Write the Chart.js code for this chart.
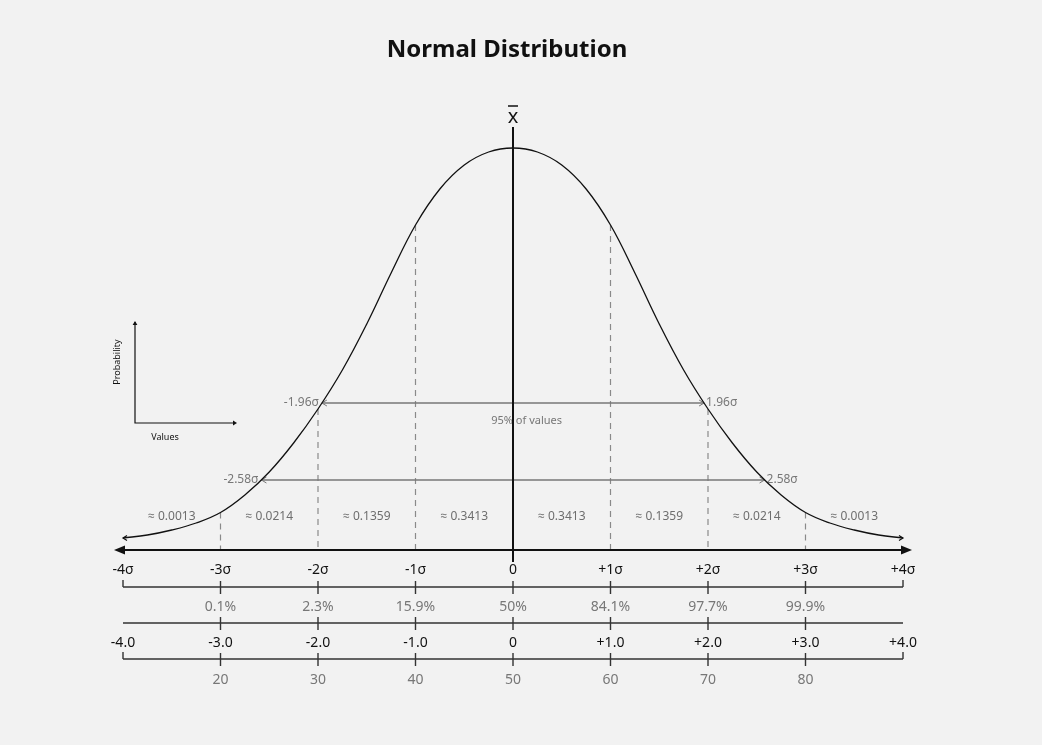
<!DOCTYPE html>
<html>
<head>
<meta charset="utf-8">
<script src="https://cdn.jsdelivr.net/npm/chart.js@4.4.0/dist/chart.umd.min.js"></script>
<style>
html, body { margin: 0; padding: 0; background: #f2f2f2; }
#wrap { width: 1042px; height: 745px; position: relative; }
</style>
</head>
<body>
<div id="wrap"><canvas id="normalChart"></canvas></div>
<script>
// curve (x in sigma units)
const sigmaPoints = [-4, -3.75, -3.5, -3.25, -3, -2.75, -2.5, -2.25, -2, -1.75, -1.5, -1.25, -1, -0.75, -0.5, -0.25,
    0, 0.25, 0.5, 0.75, 1, 1.25, 1.5, 1.75, 2, 2.25, 2.5, 2.75, 3, 3.25, 3.5, 3.75, 4];
const curveValues = [0.012, 0.015, 0.020, 0.027, 0.0375, 0.055, 0.078, 0.107, 0.141, 0.180, 0.226, 0.277, 0.325, 0.361, 0.385, 0.398,
    0.402, 0.398, 0.385, 0.361, 0.325, 0.277, 0.226, 0.180, 0.141, 0.107, 0.078, 0.055, 0.0375, 0.027, 0.020, 0.015, 0.012];

// scales under the axis
const tickPositions = [-4, -3, -2, -1, 0, 1, 2, 3, 4];
const sigmaLabels = ['-4σ', '-3σ', '-2σ', '-1σ', '0', '+1σ', '+2σ', '+3σ', '+4σ'];
const cumulativeLabels = ['', '0.1%', '2.3%', '15.9%', '50%', '84.1%', '97.7%', '99.9%', ''];
const zLabels = ['-4.0', '-3.0', '-2.0', '-1.0', '0', '+1.0', '+2.0', '+3.0', '+4.0'];
const tScoreLabels = ['', '20', '30', '40', '50', '60', '70', '80', ''];

// areas between the sigma lines
const areaCenters = [-3.5, -2.5, -1.5, -0.5, 0.5, 1.5, 2.5, 3.5];
const areaLabels = ['≈ 0.0013', '≈ 0.0214', '≈ 0.1359', '≈ 0.3413', '≈ 0.3413', '≈ 0.1359', '≈ 0.0214', '≈ 0.0013'];
const dashedAt = [-3, -2, -1, 1, 2, 3];

// confidence intervals
const intervalZ = [1.96, 2.58];
const intervalLevel = [0.147, 0.070];
const intervalLabels = ['1.96σ', '2.58σ'];

const FONT = '"Noto Sans", "Open Sans", sans-serif';

function curveAt(s) {
    const i = sigmaPoints.indexOf(s);
    return curveValues[i];
}

function arrowHead(ctx, x, y, dir, size, filled, ratio) {
    const w = size * (ratio || 0.6);
    ctx.beginPath();
    if (dir === 'up') {
        ctx.moveTo(x - w, y + size);
        ctx.lineTo(x, y);
        ctx.lineTo(x + w, y + size);
    } else {
        ctx.moveTo(x - dir * size, y - w);
        ctx.lineTo(x, y);
        ctx.lineTo(x - dir * size, y + w);
    }
    if (filled) { ctx.closePath(); ctx.fill(); } else { ctx.stroke(); }
}

const decorPlugin = {
    id: 'decor',
    beforeDraw(chart) {
        const ctx = chart.ctx;
        ctx.save();
        ctx.fillStyle = '#f2f2f2';
        ctx.fillRect(0, 0, chart.width, chart.height);
        ctx.restore();
    },
    beforeDatasetsDraw(chart) {
        const ctx = chart.ctx;
        const xs = chart.scales.x, ys = chart.scales.y;
        const base = ys.getPixelForValue(0);
        ctx.save();
        // dashed sigma lines
        ctx.strokeStyle = '#8a8a8a';
        ctx.lineWidth = 1.2;
        ctx.setLineDash([6, 5]);
        dashedAt.forEach(s => {
            const px = xs.getPixelForValue(s);
            ctx.beginPath();
            ctx.moveTo(px, ys.getPixelForValue(curveAt(s)));
            ctx.lineTo(px, base);
            ctx.stroke();
        });
        ctx.setLineDash([]);

        // interval arrows
        ctx.strokeStyle = '#777';
        ctx.fillStyle = '#777';
        ctx.lineWidth = 1.3;
        ctx.font = '12px ' + FONT;
        ctx.textBaseline = 'middle';
        intervalZ.forEach((z, i) => {
            const y = ys.getPixelForValue(intervalLevel[i]);
            const x1 = xs.getPixelForValue(-z), x2 = xs.getPixelForValue(z);
            ctx.beginPath();
            ctx.moveTo(x1, y);
            ctx.lineTo(x2, y);
            ctx.stroke();
            ctx.lineWidth = 1;
            arrowHead(ctx, x1, y, -1, 5, false);
            arrowHead(ctx, x2, y, 1, 5, false);
            ctx.lineWidth = 1.3;
            ctx.textAlign = 'right';
            ctx.fillText('-' + intervalLabels[i], x1 - 3, y);
            ctx.textAlign = 'left';
            ctx.fillText(intervalLabels[i], x2 + 2, y);
        });
        ctx.font = '11px ' + FONT;
        ctx.textAlign = 'center';
        ctx.fillText('95% of values', xs.getPixelForValue(0.14), ys.getPixelForValue(intervalLevel[0]) + 18);

        // area labels
        ctx.fillStyle = '#6e6e6e';
        ctx.font = '12px ' + FONT;
        areaCenters.forEach((c, i) => {
            ctx.fillText(areaLabels[i], xs.getPixelForValue(c), base - 33);
        });
        ctx.restore();
    },
    afterDatasetsDraw(chart) {
        const ctx = chart.ctx;
        const xs = chart.scales.x, ys = chart.scales.y;
        const base = ys.getPixelForValue(0);
        const x0 = xs.getPixelForValue(0);
        const xl = xs.getPixelForValue(-4), xr = xs.getPixelForValue(4);
        ctx.save();

        // title
        ctx.fillStyle = '#111';
        ctx.font = 'bold 24px ' + FONT;
        ctx.textAlign = 'center';
        ctx.textBaseline = 'middle';
        ctx.fillText('Normal Distribution', 507, 50);

        // curve end arrows
        ctx.strokeStyle = '#111';
        ctx.lineWidth = 1.2;
        arrowHead(ctx, xl, ys.getPixelForValue(curveValues[0]), -1, 4, false);
        arrowHead(ctx, xr, ys.getPixelForValue(curveValues[curveValues.length - 1]), 1, 4, false);

        // mean line and x-bar
        ctx.lineWidth = 2;
        ctx.beginPath();
        ctx.moveTo(x0, ys.getPixelForValue(0.423));
        ctx.lineTo(x0, base + 12);
        ctx.stroke();
        ctx.font = '20px ' + FONT;
        ctx.fillText('x', x0, 117);
        ctx.lineWidth = 1.5;
        ctx.beginPath();
        ctx.moveTo(x0 - 5, 106);
        ctx.lineTo(x0 + 5, 106);
        ctx.stroke();

        // main axis
        ctx.lineWidth = 2;
        ctx.fillStyle = '#111';
        ctx.beginPath();
        ctx.moveTo(xl - 6, base);
        ctx.lineTo(xr + 6, base);
        ctx.stroke();
        arrowHead(ctx, xl - 9, base, -1, 11, true, 0.42);
        arrowHead(ctx, xr + 9, base, 1, 11, true, 0.42);

        // rows below the axis
        const rows = [
            { labels: sigmaLabels, dy: 20, color: '#111' },
            { labels: cumulativeLabels, dy: 57, color: '#777' },
            { labels: zLabels, dy: 93, color: '#111' },
            { labels: tScoreLabels, dy: 130, color: '#777' }
        ];
        ctx.font = '14px ' + FONT;
        rows.forEach(r => {
            ctx.fillStyle = r.color;
            tickPositions.forEach((t, i) => {
                if (r.labels[i] !== '') ctx.fillText(r.labels[i], xs.getPixelForValue(t), base + r.dy);
            });
        });

        // scale lines with ticks
        ctx.strokeStyle = '#333';
        ctx.lineWidth = 1.4;
        [{ dy: 37, ends: true }, { dy: 73, ends: false }, { dy: 109, ends: true }].forEach(l => {
            const y = base + l.dy;
            ctx.beginPath();
            ctx.moveTo(xl, y);
            ctx.lineTo(xr, y);
            tickPositions.forEach(t => {
                const px = xs.getPixelForValue(t);
                if (t === -4 || t === 4) {
                    if (l.ends) { ctx.moveTo(px, y - 7); ctx.lineTo(px, y); }
                } else {
                    ctx.moveTo(px, y - 6);
                    ctx.lineTo(px, y + 7);
                }
            });
            ctx.stroke();
        });

        // small inset axes
        ctx.strokeStyle = '#111';
        ctx.fillStyle = '#111';
        ctx.lineWidth = 1.2;
        ctx.beginPath();
        ctx.moveTo(135, 322);
        ctx.lineTo(135, 423);
        ctx.lineTo(235, 423);
        ctx.stroke();
        arrowHead(ctx, 135, 321, 'up', 4, true);
        arrowHead(ctx, 237, 423, 1, 4, true);
        ctx.font = '9px ' + FONT;
        ctx.fillText('Values', 165, 437);
        ctx.save();
        ctx.translate(117, 362);
        ctx.rotate(-Math.PI / 2);
        ctx.fillText('Probability', 0, 0);
        ctx.restore();

        ctx.restore();
    }
};

const normalChart = new Chart(document.getElementById('normalChart'), {
    type: 'line',
    data: {
        datasets: [{
            label: 'Normal curve',
            data: sigmaPoints.map((s, i) => ({ x: s, y: curveValues[i] })),
            borderColor: '#111',
            borderWidth: 1.3,
            pointRadius: 0,
            tension: 0.4,
            fill: false,
            clip: false
        }]
    },
    options: {
        responsive: true,
        maintainAspectRatio: false,
        animation: false,
        layout: { padding: { left: 123, right: 139, top: 100, bottom: 195 } },
        plugins: {
            legend: { display: false },
            tooltip: { enabled: false },
            title: { display: false }
        },
        scales: {
            x: { type: 'linear', min: -4, max: 4, display: false },
            y: { min: 0, max: 0.45, display: false }
        }
    },
    plugins: [decorPlugin]
});
</script>
</body>
</html>
